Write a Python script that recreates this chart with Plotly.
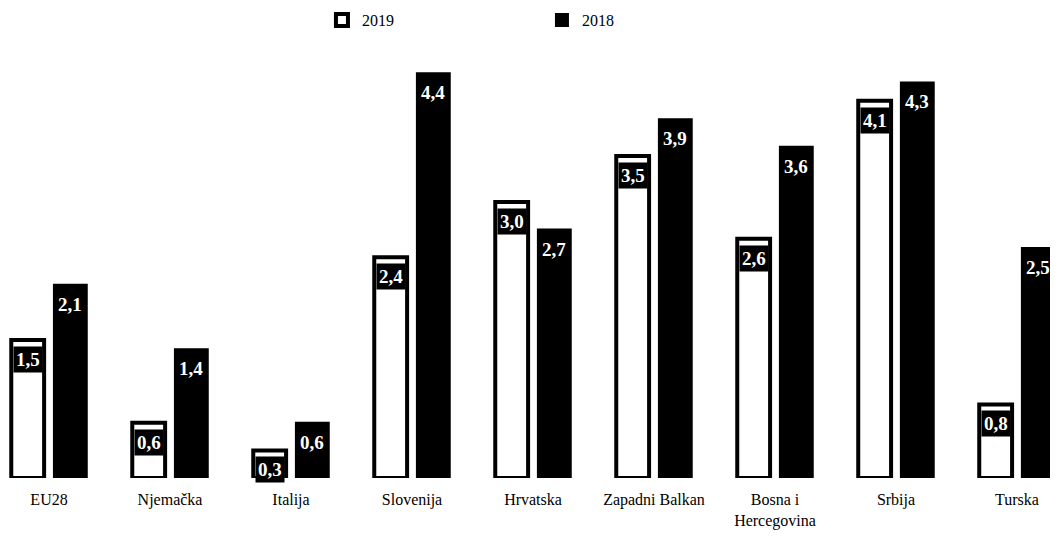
import plotly.graph_objects as go

categories = ["EU28", "Njemačka", "Italija", "Slovenija", "Hrvatska",
              "Zapadni Balkan", "Bosna i<br>Hercegovina", "Srbija", "Turska"]
values_2019 = [1.5, 0.6, 0.3, 2.4, 3.0, 3.5, 2.6, 4.1, 0.8]
values_2018 = [2.1, 1.4, 0.6, 4.4, 2.7, 3.9, 3.6, 4.3, 2.5]
series_names = ["2019", "2018"]

FONT = "Liberation Serif"

def fmt(v):
    return f"{v:.1f}".replace(".", ",")

fig = go.Figure()
fig.add_trace(go.Bar(
    x=categories, y=values_2019, name=series_names[0],
    marker=dict(color="white", line=dict(color="black", width=4)),
))
fig.add_trace(go.Bar(
    x=categories, y=values_2018, name=series_names[1],
    marker=dict(color="black", line=dict(color="black", width=2)),
))

for vals, shift in ((values_2019, -21), (values_2018, 21)):
    for c, v in zip(categories, vals):
        fig.add_annotation(
            x=c, y=v, xref="x", yref="y", xshift=shift, yshift=-6,
            yanchor="top", text=f"<b>{fmt(v)}</b>", showarrow=False,
            font=dict(family=FONT, size=19, color="white"),
            bgcolor="black", borderpad=2,
        )

fig.update_layout(
    width=1050, height=540,
    margin=dict(l=0, r=0, t=10, b=70, autoexpand=False),
    paper_bgcolor="white", plot_bgcolor="white",
    barmode="group", bargap=0.295, bargroupgap=0.23,
    font=dict(family=FONT, size=16, color="black"),
    showlegend=True,
    legend=dict(orientation="h", x=0.299, y=0.9957, yanchor="middle",
                xanchor="left", entrywidth=175, entrywidthmode="pixels",
                bgcolor="rgba(0,0,0,0)",
                font=dict(family=FONT, size=16, color="black")),
    xaxis=dict(range=[-0.339, 8.339], showgrid=False, zeroline=False,
               showline=False, ticks="", ticklabelstandoff=10,
               tickfont=dict(family=FONT, size=16)),
    yaxis=dict(range=[0, 5], visible=False, showgrid=False, zeroline=False),
)

fig.write_html("out.html")
